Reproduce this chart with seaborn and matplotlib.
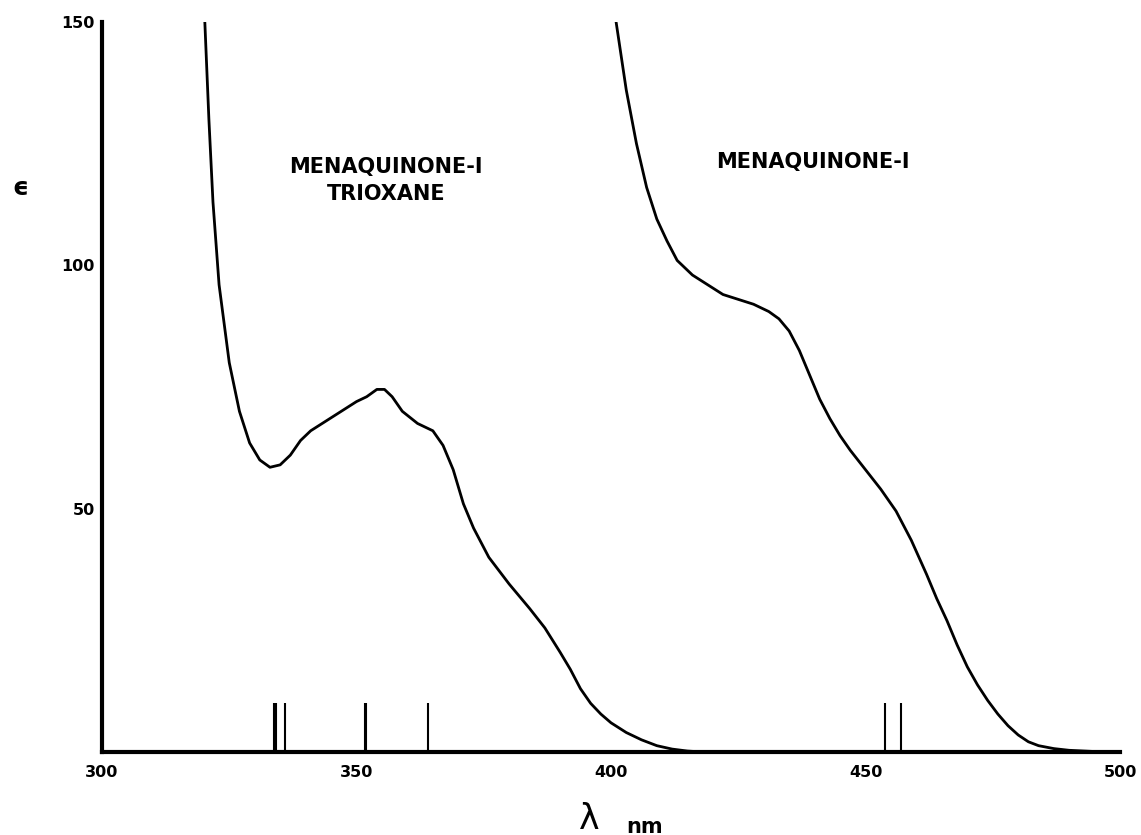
import matplotlib
matplotlib.use("Agg")
import matplotlib.pyplot as plt
import seaborn as sns
import pandas as pd

# ---- data ----
trioxane_nm = [320.2, 321.0, 321.8, 323, 325, 327, 329, 331, 333, 335, 337, 339, 341, 344,
               347, 350, 352, 354, 355.5, 357, 359, 362, 365, 367, 369, 371, 373, 376,
               380, 384, 387, 390, 392, 394, 396, 398, 400, 403, 406, 409, 412, 415, 418]
trioxane_eps = [150, 130, 113, 96, 80, 70, 63.5, 60, 58.5, 59, 61, 64, 66, 68,
                70, 72, 73, 74.5, 74.5, 73, 70, 67.5, 66, 63, 58, 51, 46, 40,
                34.5, 29.5, 25.5, 20.5, 17, 13, 10, 7.8, 6, 4, 2.5, 1.3, 0.6, 0.2, 0]

mk1_nm = [401, 403, 405, 407, 409, 411, 413, 416, 419, 422, 425, 428, 431, 433, 435,
          437, 439, 441, 443, 445, 447, 450, 453, 456, 459, 462, 464, 466, 468, 470,
          472, 474, 476, 478, 480, 482, 484, 487, 490, 495, 499]
mk1_eps = [150, 136, 125, 116, 109.5, 105, 101, 98, 96, 94, 93, 92, 90.5, 89, 86.5,
           82.5, 77.5, 72.5, 68.5, 65, 62, 58, 54, 49.5, 43.5, 36.5, 31.5, 27, 22, 17.5,
           13.8, 10.6, 7.8, 5.4, 3.5, 2.1, 1.3, 0.7, 0.35, 0.1, 0]

stick_nm = [333.8, 334.1, 335.9, 351.6, 351.9, 364.05, 453.8, 457.0]
stick_eps = [10, 10, 10, 10, 10, 10, 10, 10]

x_ticks = [300, 350, 400, 450, 500]
y_ticks = [50, 100, 150]
label_trioxane = "MENAQUINONE-I\nTRIOXANE"
label_mk1 = "MENAQUINONE-I"

# ---- style ----
sns.set_style("white")
plt.rcParams['font.family'] = ['DejaVu Sans']
plt.rcParams['text.color'] = 'black'
plt.rcParams['xtick.color'] = 'black'
plt.rcParams['ytick.color'] = 'black'
plt.rcParams['axes.labelcolor'] = 'black'

fig = plt.figure(figsize=(11.41, 8.35), dpi=100)
ax = fig.add_axes([0.0894, 0.0994, 0.8922, 0.8743])

df1 = pd.DataFrame({"nm": trioxane_nm, "eps": trioxane_eps})
df2 = pd.DataFrame({"nm": mk1_nm, "eps": mk1_eps})
sns.lineplot(data=df1, x="nm", y="eps", ax=ax, color="black", lw=2.0,
             sort=False, estimator=None)
sns.lineplot(data=df2, x="nm", y="eps", ax=ax, color="black", lw=2.0,
             sort=False, estimator=None)
ax.vlines(stick_nm, 0, stick_eps, color="black", lw=1.5)

ax.set_xlim(300, 500)
ax.set_ylim(0, 150)
ax.set_xticks(x_ticks)
ax.set_yticks(y_ticks)
ax.set_xticklabels([str(t) for t in x_ticks], fontweight="bold", fontsize=11.5)
ax.set_yticklabels([str(t) for t in y_ticks], fontweight="bold", fontsize=11.5)
ax.tick_params(axis="both", direction="in", length=6, width=2, colors="black")
ax.tick_params(axis="x", pad=9)
ax.tick_params(axis="y", pad=5)

for s in ["top", "right"]:
    ax.spines[s].set_visible(False)
for s in ["left", "bottom"]:
    ax.spines[s].set_linewidth(3)
    ax.spines[s].set_color("black")
ax.set_xlabel("")
ax.set_ylabel("")

ax.text(355.8, 117.5, label_trioxane, ha="center", va="center", fontsize=15,
        fontweight="bold", linespacing=1.45, color="black")
ax.text(439.7, 121.2, label_mk1, ha="center", va="center", fontsize=15,
        fontweight="bold", color="black")

fig.text(0.0105, 0.775, "\u03f5", fontsize=18, fontweight="bold", va="center")
fig.text(0.507, 0.019, "\u03bb", fontsize=25, va="center")
fig.text(0.549, 0.010, "nm", fontsize=15, fontweight="bold", va="center")

fig.savefig("out.png", dpi=100, facecolor="white")
